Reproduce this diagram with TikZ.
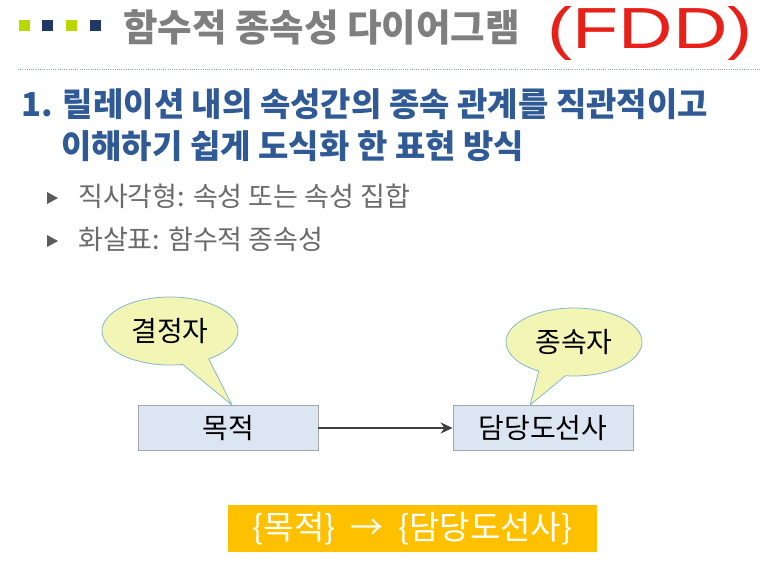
\documentclass[tikz,border=0pt]{standalone}
\usepackage{fontspec}
\setmainfont{Noto Sans CJK KR}
\newfontfamily\latinfont{Liberation Sans}
\usetikzlibrary{shapes.callouts,arrows.meta}
\definecolor{lime}{HTML}{B8D800}
\definecolor{navy}{HTML}{1F3864}
\definecolor{titlegray}{HTML}{7F7F7F}
\definecolor{headblue}{HTML}{2F5A96}
\definecolor{bulgray}{HTML}{6B6B6B}
\definecolor{boxfill}{HTML}{DCE6F2}
\definecolor{boxline}{HTML}{A6A6A6}
\definecolor{calfill}{HTML}{F3F5B4}
\definecolor{calline}{HTML}{86B8C8}
\definecolor{banner}{HTML}{FFC000}
\definecolor{dotline}{HTML}{8FA2BA}
\definecolor{pen}{HTML}{E8201A}
\begin{document}
\begin{tikzpicture}[x=1pt,y=-1pt,
  sq/.style={minimum size=11pt,inner sep=0pt},
  attrbox/.style={draw=boxline,fill=boxfill,line width=0.8pt,minimum width=180pt,minimum height=45pt,inner sep=0pt,font=\fontsize{28}{32}\selectfont},
  bubble/.style={ellipse callout,draw=calline,fill=calfill,line width=0.8pt,minimum width=136pt,minimum height=68pt,inner sep=0pt,callout pointer arc=24,font=\fontsize{28}{32}\selectfont},
  conn/.style={draw=black!75,line width=2.2pt,-{Stealth[length=12pt,width=11pt]}},
  bultext/.style={anchor=west,text=bulgray,font=\fontsize{27}{32}\selectfont,inner sep=0pt},
  bulmark/.style={fill=bulgray!85!black}
]
\useasboundingbox (0,0) rectangle (767,580);
\fill[white] (0,0) rectangle (767,580);

% top squares
\node[sq,fill=lime] (s1) at (24,26) {};
\node[sq,fill=navy] (s2) at (47,26) {};
\node[sq,fill=lime] (s3) at (71,26) {};
\node[sq,fill=navy] (s4) at (95,26) {};

% title
\node[anchor=west,inner sep=0pt,text=titlegray,font=\fontsize{37.5}{42}\selectfont\bfseries] (title) at (123,27) {함수적 종속성 다이어그램};
\node[text=pen,inner sep=0pt,font=\latinfont\fontsize{58}{64}\selectfont,xscale=1.3] (fdd) at (650,33) {(FDD)};

% dotted rule
\coordinate (r1) at (18,70);
\coordinate (r2) at (760,70);
\draw[dotline,line width=1pt,dash pattern=on 1pt off 1.2pt] (r1) -- (r2);

% heading
\node[anchor=west,inner sep=0pt,text=headblue,font=\fontsize{33}{38}\selectfont\bfseries] (h1) at (21,104) {1. 릴레이션 내의 속성간의 종속 관계를 직관적이고};
\node[anchor=west,inner sep=0pt,text=headblue,font=\fontsize{33}{38}\selectfont\bfseries] (h2) at (61,146) {이해하기 쉽게 도식화 한 표현 방식};

% bullets
\fill[bulmark] (47,192) -- (58,198) -- (47,204) -- cycle;
\node[bultext] (b1) at (78,196) {직사각형: 속성 또는 속성 집합};
\fill[bulmark] (47,235) -- (58,241) -- (47,247) -- cycle;
\node[bultext] (b2) at (78,239) {화살표: 함수적 종속성};

% boxes and arrow
\node[attrbox] (det) at (228,428) {목적};
\node[attrbox] (dep) at (543,428) {담당도선사};
\draw[conn] (det) -- (dep);

% callouts
\node[bubble,callout absolute pointer={([xshift=4pt]det.north)}] (c1) at (170,331) {결정자};
\node[bubble,callout absolute pointer={([xshift=-13pt]dep.north)}] (c2) at (574,342) {종속자};

% banner
\node[fill=banner,text=white,minimum width=369pt,minimum height=47pt,inner sep=0pt,font=\fontsize{33}{38}\selectfont] (fd) at (412.5,528.5) {\{목적\}\ \ →\ \ \{담당도선사\}};
\end{tikzpicture}
\end{document}
